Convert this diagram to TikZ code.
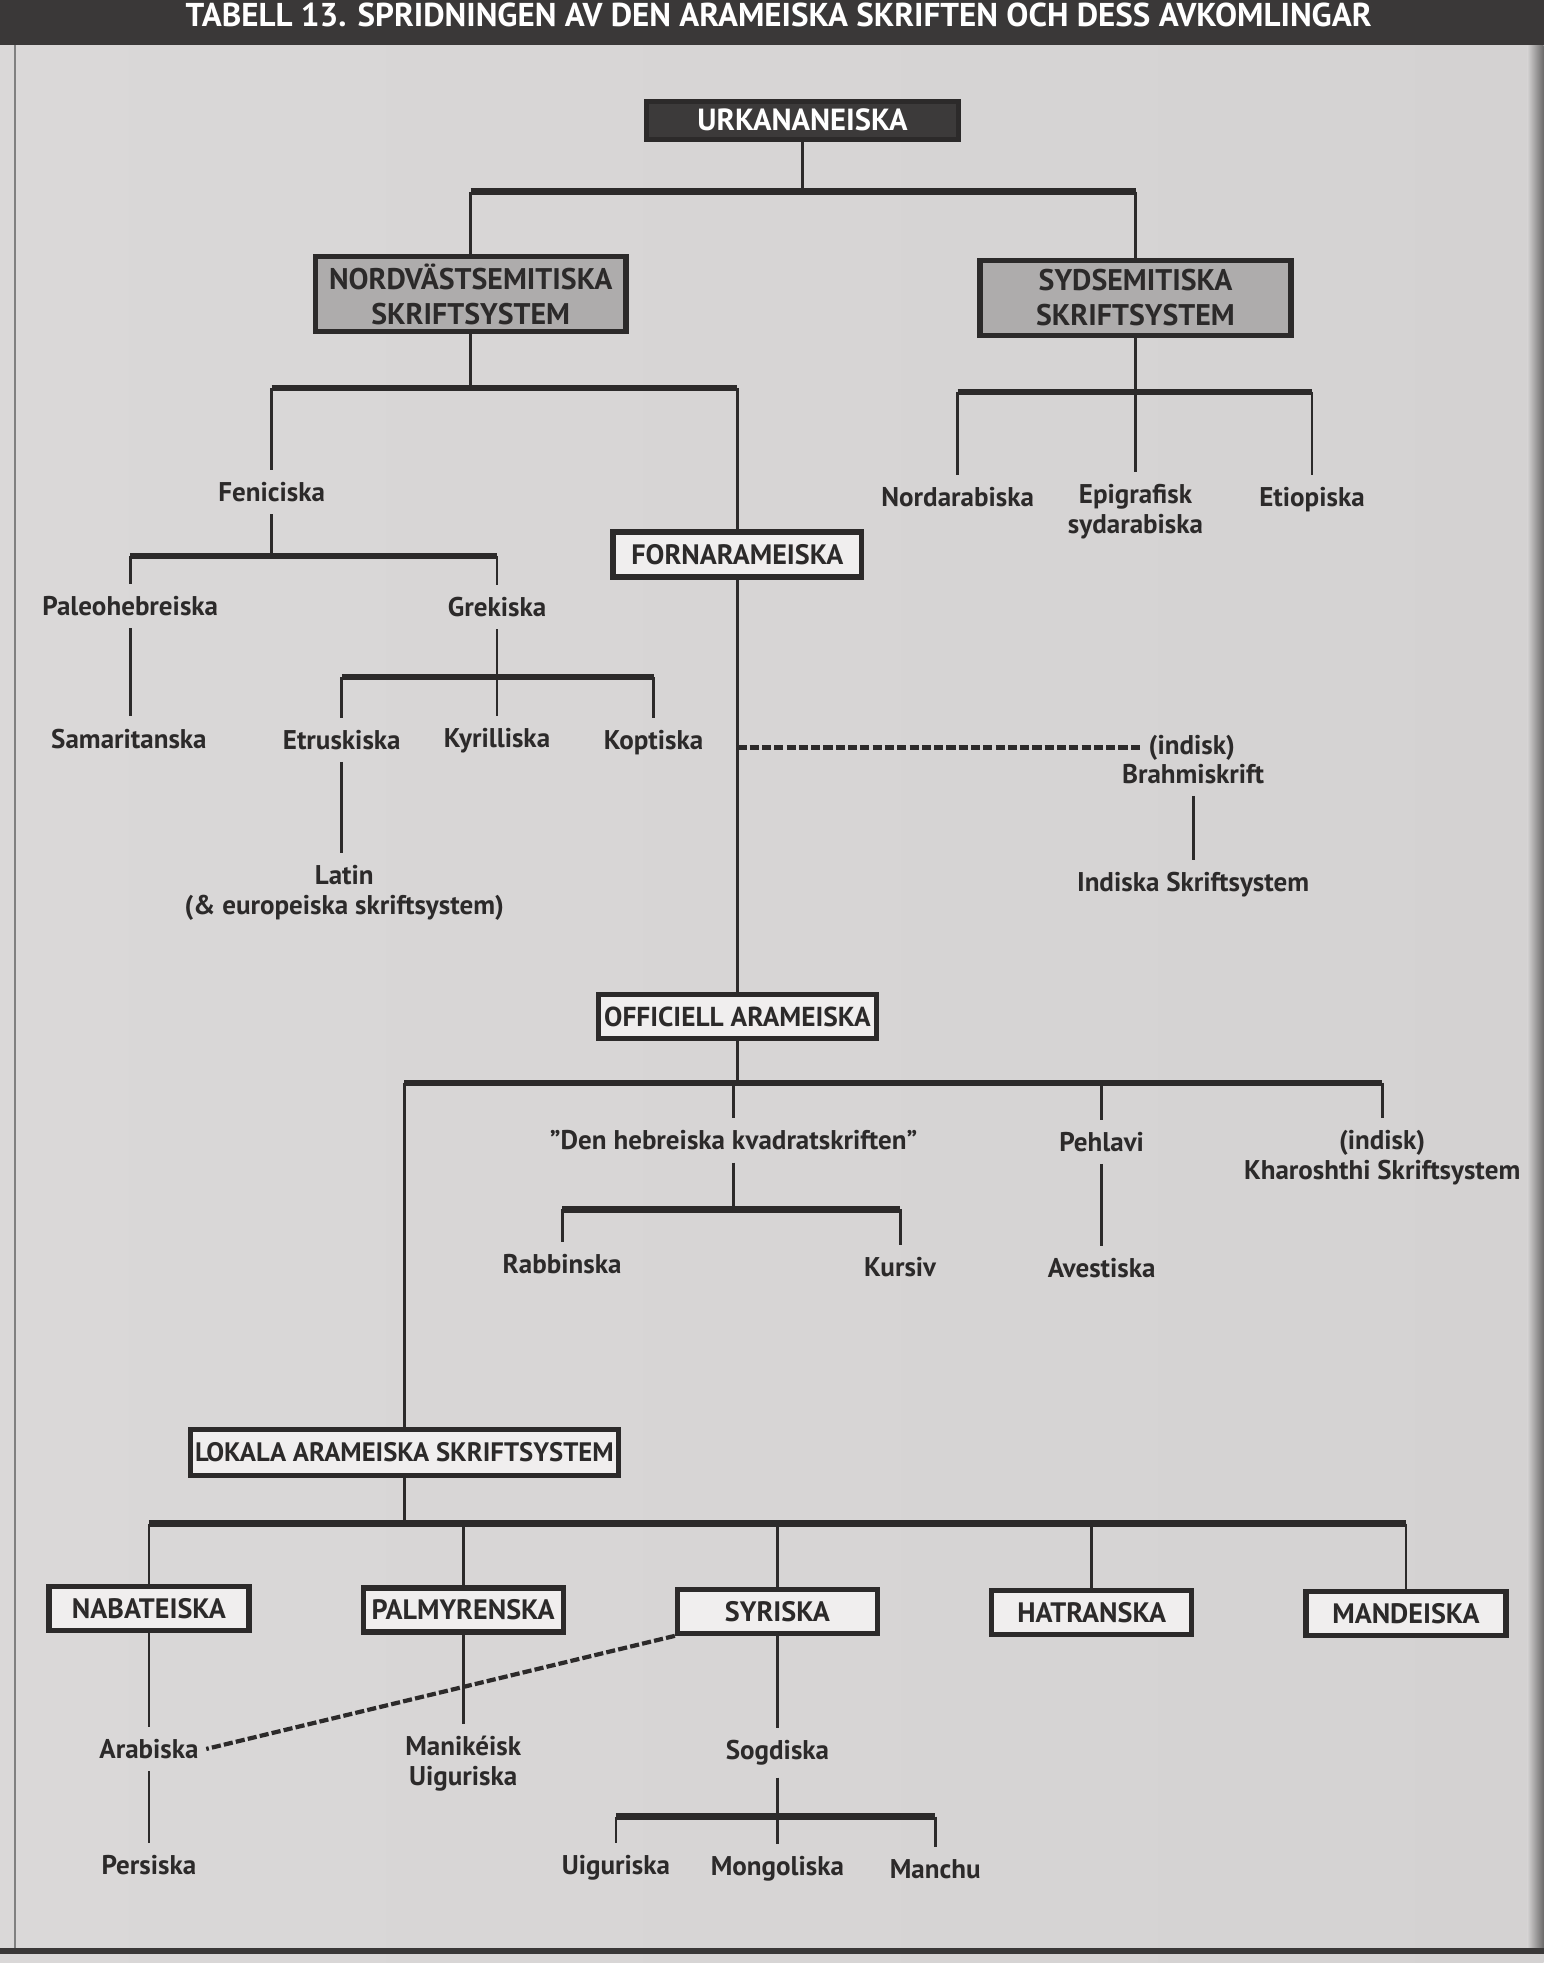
\documentclass[tikz,border=0pt]{standalone}
\usepackage{fontspec}
\setmainfont{PT Sans}
\usepackage{tikz}
\usetikzlibrary{shapes.geometric, arrows}

\definecolor{ink}{RGB}{44,42,42}
\definecolor{band}{RGB}{58,56,56}
\definecolor{paperL}{RGB}{218,216,216}
\definecolor{paperM}{RGB}{234,232,232}
\definecolor{paperR}{RGB}{212,210,210}
\definecolor{lightbox}{RGB}{240,238,238}
\definecolor{graybox}{RGB}{174,172,172}
\definecolor{darkbox}{RGB}{60,58,58}

\begin{document}
\begin{tikzpicture}[x=0.012522cm, y=-0.012522cm,
        lbl/.style={font=\bfseries\fontsize{7.7}{8.6}\selectfont, text=ink, align=center, inner xsep=2pt, inner ysep=3.3pt},
        wbox/.style={rectangle, draw=ink, line width=1.5pt, fill=lightbox, text=ink, font=\bfseries\fontsize{8}{9.8}\selectfont, align=center, inner sep=1pt, minimum width=20mm, minimum height=4.4mm},
        gbox/.style={wbox, fill=graybox, font=\bfseries\fontsize{8.5}{10}\selectfont, minimum width=31.1mm, minimum height=7.5mm},
        kbox/.style={wbox, fill=darkbox, text=white, font=\bfseries\fontsize{8.7}{10}\selectfont, minimum width=31.2mm, minimum height=3.8mm},
        ln/.style={draw=ink, line width=0.8pt},
        bus/.style={draw=ink, line width=1.8pt},
        dlink/.style={draw=ink, line width=1.2pt, dash pattern=on 2.6pt off 0.9pt}]
        % Paper
        \useasboundingbox (0,0) rectangle (1233,1568);
        \shade[left color=paperL, middle color=paperM, right color=paperR] (0,0) rectangle (1233,1568);
        \shade[left color=paperR, right color=ink!70] (1220,36) rectangle (1233,1557);
        \fill[band] (0,0) rectangle (1233,36);
        \fill[band] (0,1556) rectangle (1233,1561);
        \draw[gray, line width=0.8pt] (12,36) -- (12,1556);
        \node[font=\bfseries\fontsize{9.4}{10}\selectfont, text=white] (head) at (622,12) {TABELL 13. SPRIDNINGEN AV DEN ARAMEISKA SKRIFTEN OCH DESS AVKOMLINGAR};

        % Boxes
        \node[kbox] (urk) at (641,96) {URKANANEISKA};
        \node[gbox] (nord) at (376,235) {NORDVÄSTSEMITISKA\\SKRIFTSYSTEM};
        \node[gbox] (syd) at (907,238) {SYDSEMITISKA\\SKRIFTSYSTEM};
        \node[wbox, minimum width=24.9mm, minimum height=4.5mm] (forn) at (589,443) {FORNARAMEISKA};
        \node[wbox, minimum width=27.8mm, font=\bfseries\fontsize{7.8}{9.6}\selectfont] (off) at (589,812) {OFFICIELL ARAMEISKA};
        \node[wbox, minimum width=42.8mm, minimum height=4.6mm, font=\bfseries\fontsize{7.6}{9}\selectfont] (lok) at (323,1160) {LOKALA ARAMEISKA SKRIFTSYSTEM};
        \node[wbox] (nab) at (119,1285) {NABATEISKA};
        \node[wbox] (palm) at (370,1286) {PALMYRENSKA};
        \node[wbox] (syr) at (621,1287) {SYRISKA};
        \node[wbox] (hat) at (872,1288) {HATRANSKA};
        \node[wbox] (mand) at (1123,1289) {MANDEISKA};

        % Scripts
        \node[lbl] (fen) at (217,393) {Feniciska};
        \node[lbl] (paleo) at (104,484) {Paleohebreiska};
        \node[lbl] (grek) at (397,485) {Grekiska};
        \node[lbl] (sam) at (103,590) {Samaritanska};
        \node[lbl] (etr) at (273,591) {Etruskiska};
        \node[lbl] (kyr) at (397,592) {Kyrilliska};
        \node[lbl] (kopt) at (522,593) {Koptiska};
        \node[lbl] (lat) at (275,713) {Latin\\(\& europeiska skriftsystem)};
        \node[lbl] (indA) at (952,597) {(indisk)};
        \node[lbl] (brahmi) at (953,618) {Brahmiskrift};
        \node[lbl] (indsk) at (953,707) {Indiska Skriftsystem};
        \node[lbl] (nordar) at (765,397) {Nordarabiska};
        \node[lbl] (epi) at (907,409) {Epigrafisk\\sydarabiska};
        \node[lbl] (eti) at (1048,399) {Etiopiska};
        \node[lbl] (kvad) at (586,911) {”Den hebreiska kvadratskriften”};
        \node[lbl] (pehl) at (880,912) {Pehlavi};
        \node[lbl] (kharo) at (1104,925) {(indisk)\\Kharoshthi Skriftsystem};
        \node[lbl] (rabb) at (449,1010) {Rabbinska};
        \node[lbl] (kurs) at (719,1012) {Kursiv};
        \node[lbl] (aves) at (880,1013) {Avestiska};
        \node[lbl] (arab) at (119,1397) {Arabiska};
        \node[lbl] (pers) at (119,1490) {Persiska};
        \node[lbl] (mani) at (370,1409) {Manikéisk\\Uiguriska};
        \node[lbl] (sogd) at (621,1400) {Sogdiska};
        \node[lbl] (uig) at (492,1492) {Uiguriska};
        \node[lbl] (mong) at (621,1493) {Mongoliska};
        \node[lbl] (manchu) at (747,1493) {Manchu};

        % Junctions
        \coordinate (j0) at (641,153);
        \coordinate (j1) at (374,310);
        \coordinate (j2) at (907,313);
        \coordinate (j3) at (217,444);
        \coordinate (j4) at (397,541);
        \coordinate (j5) at (589,865);
        \coordinate (j6) at (586,966);
        \coordinate (j7) at (323,1217);
        \coordinate (j8) at (621,1451);

        % Links
        \draw[ln] (urk.south) -- (j0);
        \draw[bus] (j0 -| nord) -- (j0 -| syd);
        \draw[ln] (j0 -| nord) -- (nord.north);
        \draw[ln] (j0 -| syd) -- (syd.north);

        \draw[ln] (nord.south) -- (nord.south |- j1);
        \draw[bus] (j1 -| fen) -- (j1 -| forn);
        \draw[ln] (j1 -| fen) -- (fen.north);
        \draw[ln] (j1 -| forn) -- (forn.north);

        \draw[ln] (syd.south) -- (j2);
        \draw[bus] (j2 -| nordar) -- (j2 -| eti);
        \draw[ln] (j2 -| nordar) -- (nordar.north);
        \draw[ln] (j2) -- (epi.north);
        \draw[ln] (j2 -| eti) -- (eti.north);

        \draw[ln] (fen.south) -- (j3);
        \draw[bus] (j3 -| paleo) -- (j3 -| grek);
        \draw[ln] (j3 -| paleo) -- (paleo.north);
        \draw[ln] (j3 -| grek) -- (grek.north);
        \draw[ln] (paleo.south) -- (paleo.south |- sam.north);

        \draw[ln] (grek.south) -- (kyr.north);
        \draw[bus] (j4 -| etr) -- (j4 -| kopt);
        \draw[ln] (j4 -| etr) -- (etr.north);
        \draw[ln] (j4 -| kopt) -- (kopt.north);
        \draw[ln] (etr.south) -- (etr.south |- lat.north);

        \draw[ln] (forn.south) -- (off.north);
        \draw[dlink] (forn.south |- indA.west) -- (indA.west);
        \draw[ln] (brahmi.south) -- (indsk.north);

        \draw[ln] (off.south) -- (j5);
        \draw[bus] (j5 -| lok) -- (j5 -| kharo);
        \draw[ln] (j5 -| lok) -- (lok.north);
        \draw[ln] (j5 -| kvad) -- (kvad.north);
        \draw[ln] (j5 -| pehl) -- (pehl.north);
        \draw[ln] (j5 -| kharo) -- (kharo.north);

        \draw[ln] (kvad.south) -- (j6);
        \draw[bus] (j6 -| rabb) -- (j6 -| kurs);
        \draw[ln] (j6 -| rabb) -- (rabb.north);
        \draw[ln] (j6 -| kurs) -- (kurs.north);
        \draw[ln] (pehl.south) -- (aves.north);

        \draw[ln] (lok.south) -- (j7);
        \draw[bus] (j7 -| nab) -- (j7 -| mand);
        \foreach \b in {nab, palm, syr, hat, mand}
            \draw[ln] (j7 -| \b) -- (\b.north);

        \draw[ln] (nab.south) -- (arab.north);
        \draw[ln] (arab.south) -- (pers.north);
        \draw[ln] (palm.south) -- (mani.north);
        \draw[dlink] (syr.south west) -- (arab.east);
        \draw[ln] (syr.south) -- (sogd.north);
        \draw[ln] (sogd.south) -- (mong.north);
        \draw[bus] (j8 -| uig) -- (j8 -| manchu);
        \draw[ln] (j8 -| uig) -- (uig.north);
        \draw[ln] (j8 -| manchu) -- (manchu.north);
    \end{tikzpicture}
\end{document}
